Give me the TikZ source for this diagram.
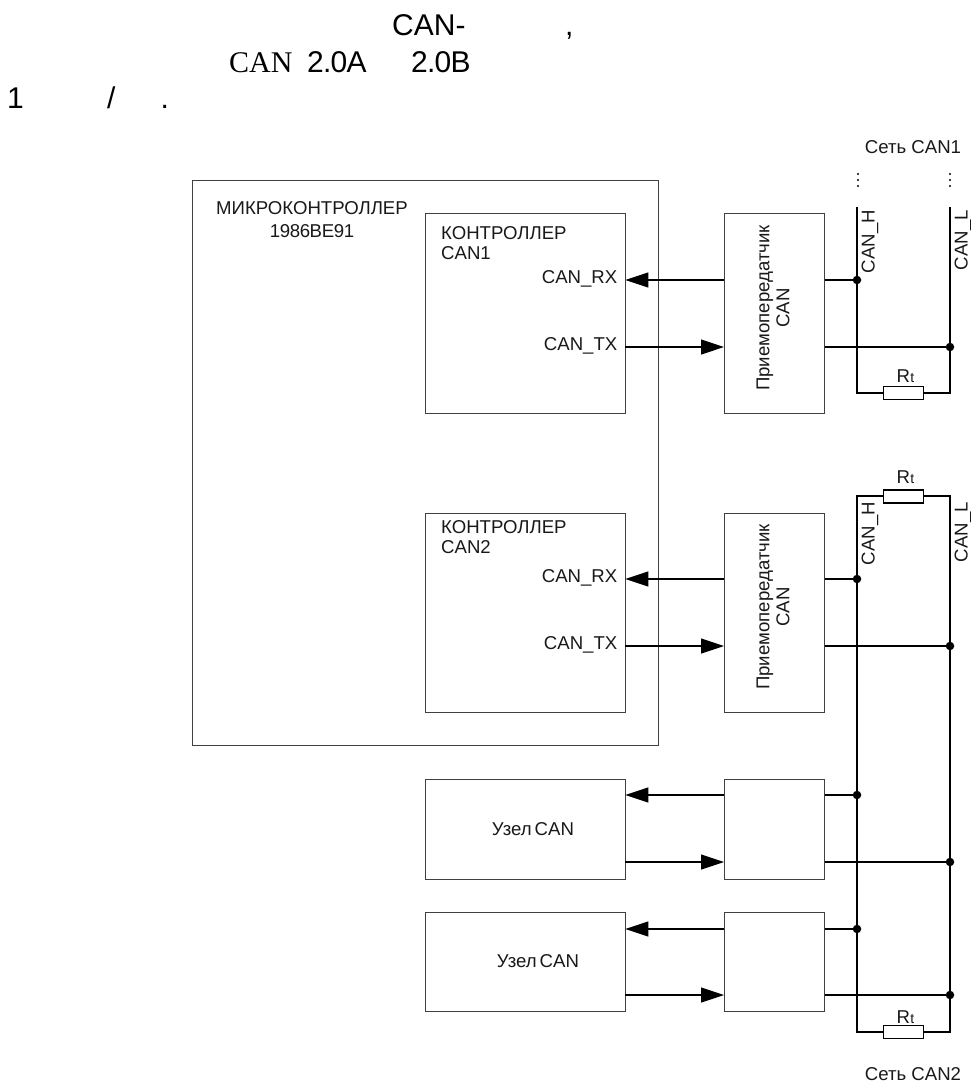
\documentclass[tikz,border=0pt]{standalone}
\usepackage{fontspec}
\setmainfont{Liberation Sans}
\newfontfamily\serifhead{Liberation Serif}
\usetikzlibrary{arrows.meta}
\tikzset{
  x=1pt,y=-1pt,
  block/.style={draw=black!75,line width=0.9pt,fill=white,inner sep=0,anchor=north west},
  wire/.style={draw=black,line width=1.2pt},
  bus/.style={draw=black,line width=1.5pt},
  sig/.style={wire,-{Triangle[length=23pt,width=15pt,fill=black]}},
  res/.style={draw=black,line width=1.3pt,fill=white,minimum width=40pt,minimum height=13pt,inner sep=0},
  jn/.style={circle,fill=black,minimum size=8.5pt,inner sep=0},
  lab/.style={font=\fontsize{18.6}{20}\selectfont,inner sep=0,text=black!90},
  vlab/.style={lab,rotate=90},
  head/.style={font=\fontsize{30}{30}\selectfont,inner sep=0,anchor=base west},
  dotm/.style={circle,fill=black,minimum size=2.1pt,inner sep=0},
}
\newcommand{\boxat}[5]{\node[block,minimum width=#4pt,minimum height=#5pt] (#1) at (#2,#3) {};}
\newcommand{\rtlabel}{R\kern0.3pt{\fontsize{14}{14}\selectfont t}}
\begin{document}
\begin{tikzpicture}
\useasboundingbox (0,0) rectangle (970,1085);
% heading
\node[head] (h1) at (392,35) {CAN-};
\node[head] (h2) at (565,35) {,};
\node[head,font=\fontsize{30}{30}\selectfont\serifhead] (h3) at (229,72) {CAN};
\node[head] (h4) at (307,72) {\addfontfeature{LetterSpace=-2.5}2.0A};
\node[head] (h5) at (411,72) {\addfontfeature{LetterSpace=-2.5}2.0B};
\node[head] (h6) at (7,108) {1};
\node[head] (h7) at (107,108) {/};
\node[head] (h8) at (160.5,108) {.};
% blocks
\boxat{mcu}{191.5}{180}{466.5}{565}
\boxat{c1}{424.5}{213}{200}{200}
\boxat{c2}{424.5}{513}{200}{199}
\boxat{t1}{724}{213}{100}{200}
\boxat{t2}{724}{513}{100}{199}
\boxat{n1}{424.5}{779}{200}{100}
\boxat{n2}{424.5}{912}{200}{99}
\boxat{t3}{724}{779}{100}{100}
\boxat{t4}{724}{912}{100}{99}
% block texts
\node[lab,align=center,anchor=base] (mt) at (312,237) {МИКРОКОНТРОЛЛЕР\\[3pt]{\addfontfeature{LetterSpace=-2}1986ВЕ91}};
\node[lab,align=left,anchor=base west] (c1t) at (441,259) {КОНТРОЛЛЕР\\CAN1};
\node[lab,align=left,anchor=base west] (c2t) at (441,553) {КОНТРОЛЛЕР\\CAN2};
\node[lab,anchor=base east] (r1) at (617.5,283.5) {CAN\_RX};
\node[lab,anchor=base east] (x1) at (617.5,350.5) {CAN\_TX};
\node[lab,anchor=base east] (r2) at (617.5,582.5) {CAN\_RX};
\node[lab,anchor=base east] (x2) at (617.5,649.5) {CAN\_TX};
\node[lab,rotate=90,align=center] (t1t) at (773,308) {Приемопередатчик\\CAN};
\node[lab,rotate=90,align=center] (t2t) at (773,607) {Приемопередатчик\\CAN};
\node[lab] (n1t) at (533,829) {Узел\,CAN};
\node[lab] (n2t) at (538,961) {Узел\,CAN};
% coordinates
\coordinate (hT) at (857,207);
\coordinate (lT) at (950,207);
\coordinate (h1b) at (857,393);
\coordinate (l1b) at (950,393);
\coordinate (h2t) at (857,496);
\coordinate (l2t) at (950,496);
\coordinate (h2b) at (857,1032);
\coordinate (l2b) at (950,1032);
% signal wires
\path[sig] (t1.west |- 0,280) coordinate (a1) -- (c1.east |- a1);
\path[sig] (c1.east |- 0,347) coordinate (a2) -- (t1.west |- a2);
\path[sig] (t2.west |- 0,579) coordinate (a3) -- (c2.east |- a3);
\path[sig] (c2.east |- 0,646) coordinate (a4) -- (t2.west |- a4);
\path[sig] (t3.west |- 0,795) coordinate (a5) -- (n1.east |- a5);
\path[sig] (n1.east |- 0,862) coordinate (a6) -- (t3.west |- a6);
\path[sig] (t4.west |- 0,929) coordinate (a7) -- (n2.east |- a7);
\path[sig] (n2.east |- 0,995) coordinate (a8) -- (t4.west |- a8);
% buses
\path[bus] (hT) -- (h1b) -- (l1b) -- (lT);
\path[bus] (h2b) -- (h2t) -- (l2t) -- (l2b) -- cycle;
% resistors
\node[res] (R1) at (903.5,393) {};
\node[res] (R2) at (903.5,496.5) {};
\node[res] (R3) at (903.5,1032) {};
\node[lab] (R1t) at (905.5,376) {\rtlabel};
\node[lab] (R2t) at (905.5,477) {\rtlabel};
\node[lab] (R3t) at (905.5,1017) {\rtlabel};
% junctions and stubs
\foreach \nm/\blk/\yy/\xx in {j1/t1/280/857,j2/t1/347/950,j3/t2/579/857,j4/t2/646/950,j5/t3/795/857,j6/t3/862/950,j7/t4/929/857,j8/t4/995/950}{
  \node[jn] (\nm) at (\xx,\yy) {};
  \path[wire] (\blk.east |- \nm) -- (\nm);
}
% bus labels
\node[vlab,anchor=north east] (b1) at (861.5,210) {CAN\_H};
\node[vlab,anchor=north east] (b2) at (954.5,210) {CAN\_L};
\node[vlab,anchor=north east] (b3) at (861.5,502) {CAN\_H};
\node[vlab,anchor=north east] (b4) at (954.5,502) {CAN\_L};
\node[lab] (s1) at (913,147) {Сеть CAN1};
\node[lab,anchor=base] (s2) at (913,1080.5) {Сеть CAN2};
% continuation dots
\foreach \xx/\nm in {858/p,950/q}{
  \foreach \yy in {174,180,186}{
    \node[dotm] (\nm\yy) at (\xx,\yy) {};
  }
}
\end{tikzpicture}
\end{document}
